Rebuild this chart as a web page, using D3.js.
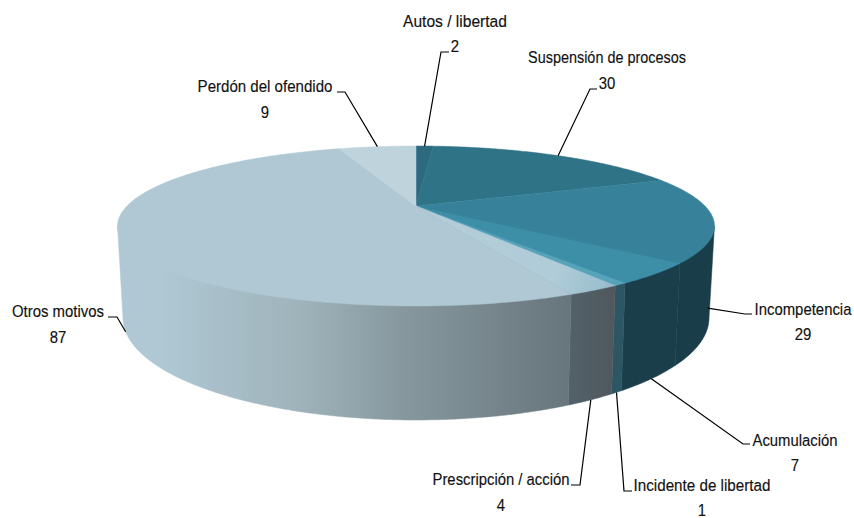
<!DOCTYPE html>
<html>
<head>
<meta charset="utf-8">
<script src="https://cdn.jsdelivr.net/npm/d3@7"></script>
<style>
html,body{margin:0;padding:0;background:#fff}
svg{display:block}
text{font-family:"Liberation Sans",sans-serif;font-size:17px;fill:#111;stroke:#111;stroke-width:0.15px;text-anchor:middle}
</style>
</head>
<body>
<div class="pie"></div>
<script>
const categories=['Autos / libertad','Suspensión de procesos','Incompetencia','Acumulación','Incidente de libertad','Prescripción / acción','Otros motivos','Perdón del ofendido']
const values=[2,30,29,7,1,4,87,9]

const topColors=['#2e6a7f','#2f7387','#37829a','#3d8fa8','#56a3ba','url(#prescTop)','#afc8d4','#bed3dc']
const sideColors=['#193d49','#193d49','#193d49','#1a3e4a','#2c5664','url(#prescSide)','url(#otrosSide)','#afc8d4']

// label layout: text centre, name baseline, value baseline, elbow start, elbow end, name width
const labelLayout=[
	{x:455,yName:27,yValue:52,elbow:[441,52],end:[449,52],rim:'top',w:104},
	{x:607,yName:63,yValue:89,elbow:[590,89],end:[597,89],rim:'top',w:158},
	{x:803,yName:315,yValue:340,elbow:[745,314],end:[752,314],rim:'bottom',w:97},
	{x:795,yName:446,yValue:471,elbow:[743,444],end:[750,444],rim:'bottom',w:85},
	{x:702,yName:491,yValue:516,elbow:[624,491],end:[632,491],rim:'bottom',w:137},
	{x:501,yName:485,yValue:511,elbow:[580,485],end:[571,485],rim:'bottom',w:137},
	{x:58,yName:317,yValue:343,elbow:[117,317],end:[108,317],rim:'bottom',w:92},
	{x:265,yName:92,yValue:118,elbow:[345,92],end:[337,92],rim:'top',w:135}
]
const digitWidth=8.3

const width=854,height=518

// the pie is drawn in perspective: k moves the centre away from the ellipse centre
const k=0.25
const topRim={cx:416,cy:206,a:289,b:75}
const bottomRim={cx:416,cy:292.5,a:283.7,b:95.6}

// angles where the rim is widest, only the wall between them can be seen
const wallStart=Math.PI-Math.acos(k)
const wallEnd=Math.PI+Math.acos(k)

function project(rim,angle){
	const X=Math.sin(angle),Y=-Math.cos(angle)
	const w=1-k*Y
	return [rim.cx+rim.a*X/w,rim.cy+rim.b*Y/w]
}

function arcPoints(rim,a0,a1){
	const n=Math.max(2,Math.ceil((a1-a0)/0.01))
	return d3.range(n+1).map(i=>project(rim,a0+(a1-a0)*i/n))
}

const svg=d3.select('.pie').append('svg')
	.attr('width',width)
	.attr('height',height)

const defs=svg.append('defs')

function gradient(id,x1,y1,x2,y2,stops){
	defs.append('linearGradient')
		.attr('id',id)
		.attr('gradientUnits','userSpaceOnUse')
		.attr('x1',x1).attr('y1',y1).attr('x2',x2).attr('y2',y2)
		.selectAll('stop')
		.data(stops)
		.join('stop')
		.attr('offset',d=>d[0])
		.attr('stop-color',d=>d[1])
}

gradient('otrosSide',160,0,569,0,[[0,'#afc8d4'],[0.34,'#9fb3bb'],[0.59,'#87999f'],[0.83,'#74848a'],[1,'#67767c']])
gradient('prescSide',569,0,615,0,[[0,'#52616a'],[1,'#50585d']])
gradient('prescTop',430,206,615,290,[[0,'#b4cdd8'],[0.7,'#b0ccd8'],[1,'#94bccb']])

const pie=d3.pie().sort(null).value(d=>d)
	.startAngle(0).endAngle(2*Math.PI)
const slices=pie(values)

const line=d3.line()

// sides first, they run on under the top face so no seam shows along the rim
svg.append('g').attr('class','sides')
	.selectAll('path')
	.data(slices.filter(d=>d.endAngle>wallStart&&d.startAngle<wallEnd))
	.join('path')
	.attr('d',d=>{
		const a0=Math.max(d.startAngle,wallStart),a1=Math.min(d.endAngle,wallEnd)
		const pts=[[topRim.cx,topRim.cy],project(topRim,a0)]
			.concat(arcPoints(bottomRim,a0,a1),[project(topRim,a1)])
		return line(pts)+'Z'
	})
	.attr('fill',d=>sideColors[d.index])
	.attr('stroke',d=>sideColors[d.index])
	.attr('stroke-width',0.5)

svg.append('g').attr('class','tops')
	.selectAll('path')
	.data(slices)
	.join('path')
	.attr('d',d=>{
		const pts=[[topRim.cx,topRim.cy]].concat(arcPoints(topRim,d.startAngle,d.endAngle))
		return line(pts)+'Z'
	})
	.attr('fill',d=>topColors[d.index])
	.attr('stroke',d=>topColors[d.index])
	.attr('stroke-width',0.5)

const labels=svg.append('g').attr('class','labels')
	.selectAll('g')
	.data(slices)
	.join('g')

labels.append('path')
	.attr('d',(d,i)=>{
		const l=labelLayout[i]
		const mid=(d.startAngle+d.endAngle)/2
		const start=project(l.rim=='top'?topRim:bottomRim,mid)
		return line([start,l.elbow,l.end])
	})
	.attr('fill','none')
	.attr('stroke','#000')
	.attr('stroke-width',1.2)

// no condensed font here, so squeeze the text sideways to the measured width
function squeeze(selection,widthOf,yOf){
	selection.attr('transform',function(d,i){
		const sx=widthOf(d,i)/this.getComputedTextLength()
		return `translate(${labelLayout[i].x},${yOf(i)}) scale(${sx},1)`
	})
}

labels.append('text')
	.text((d,i)=>categories[i])
	.call(squeeze,(d,i)=>labelLayout[i].w,i=>labelLayout[i].yName)

labels.append('text')
	.text(d=>d.data)
	.call(squeeze,d=>String(d.data).length*digitWidth,i=>labelLayout[i].yValue)
</script>
</body>
</html>
